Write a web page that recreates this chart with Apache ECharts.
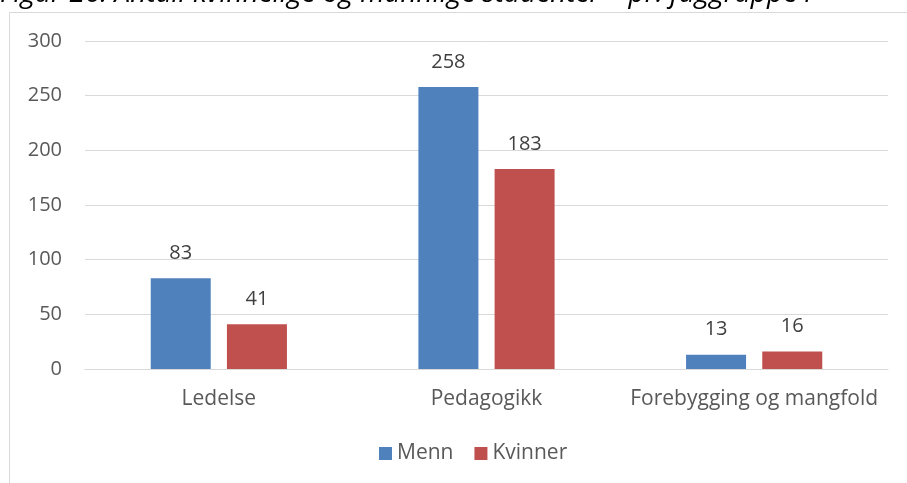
<!DOCTYPE html>
<html>
<head>
<meta charset="utf-8">
<script src="https://cdn.jsdelivr.net/npm/echarts@6/dist/echarts.min.js"></script>
<style>
  html, body { margin: 0; padding: 0; background: #fff; }
  #chart { width: 907px; height: 483px; }
</style>
</head>
<body>
<div id="chart"></div>
<script>
// Student counts by subject group and gender
const categories = ['Ledelse', 'Pedagogikk', 'Forebygging og mangfold'];
const menn = [83, 258, 13];
const kvinner = [41, 183, 16];
const yTicks = { min: 0, max: 300, interval: 50 };
const captionText = 'Figur 26: Antall kvinnelige og mannlige studenter – pr. faggruppe i';

const FONT = '"Open Sans", sans-serif';
const chart = echarts.init(document.getElementById('chart'), null, { renderer: 'canvas' });

const dataLabel = {
  show: true,
  position: 'top',
  distance: 15,
  color: '#404040',
  fontSize: 20,
  fontFamily: FONT
};

chart.setOption({
  backgroundColor: '#ffffff',
  animation: false,
  graphic: [
    {
      // chart frame
      type: 'rect',
      shape: { x: 9.5, y: 12.5, width: 920, height: 500 },
      style: { fill: 'none', stroke: '#d9d9d9', lineWidth: 1 },
      silent: true
    },
    {
      // figure caption running along the top edge
      type: 'text',
      x: 0, y: -6,
      style: {
        text: captionText,
        font: 'italic 28px "Open Sans", sans-serif',
        fill: '#000000',
        verticalAlign: 'middle',
        align: 'left'
      },
      silent: true
    }
  ],
  grid: { left: 85, right: 19, top: 41, bottom: 114 },
  legend: {
    bottom: 14,
    left: 374,
    itemWidth: 13,
    itemHeight: 13,
    itemGap: 21,
    icon: 'rect',
    textStyle: { color: '#595959', fontSize: 21, fontFamily: FONT },
    data: ['Menn', 'Kvinner']
  },
  xAxis: {
    type: 'category',
    data: categories,
    axisLine: { lineStyle: { color: '#d9d9d9' } },
    axisTick: { show: false },
    axisLabel: { color: '#595959', fontSize: 21, fontFamily: FONT, margin: 20, interval: 0 }
  },
  yAxis: {
    type: 'value',
    min: yTicks.min,
    max: yTicks.max,
    interval: yTicks.interval,
    axisLine: { show: false },
    axisTick: { show: false },
    splitLine: { lineStyle: { color: '#d9d9d9' } },
    axisLabel: { color: '#595959', fontSize: 20, fontFamily: FONT, margin: 23 }
  },
  series: [
    {
      name: 'Menn',
      type: 'bar',
      data: menn,
      barWidth: 60,
      barGap: '27%',
      itemStyle: { color: '#4f81bd' },
      label: dataLabel
    },
    {
      name: 'Kvinner',
      type: 'bar',
      data: kvinner,
      barWidth: 60,
      barGap: '27%',
      itemStyle: { color: '#c0504d' },
      label: dataLabel
    }
  ]
});
</script>
</body>
</html>
